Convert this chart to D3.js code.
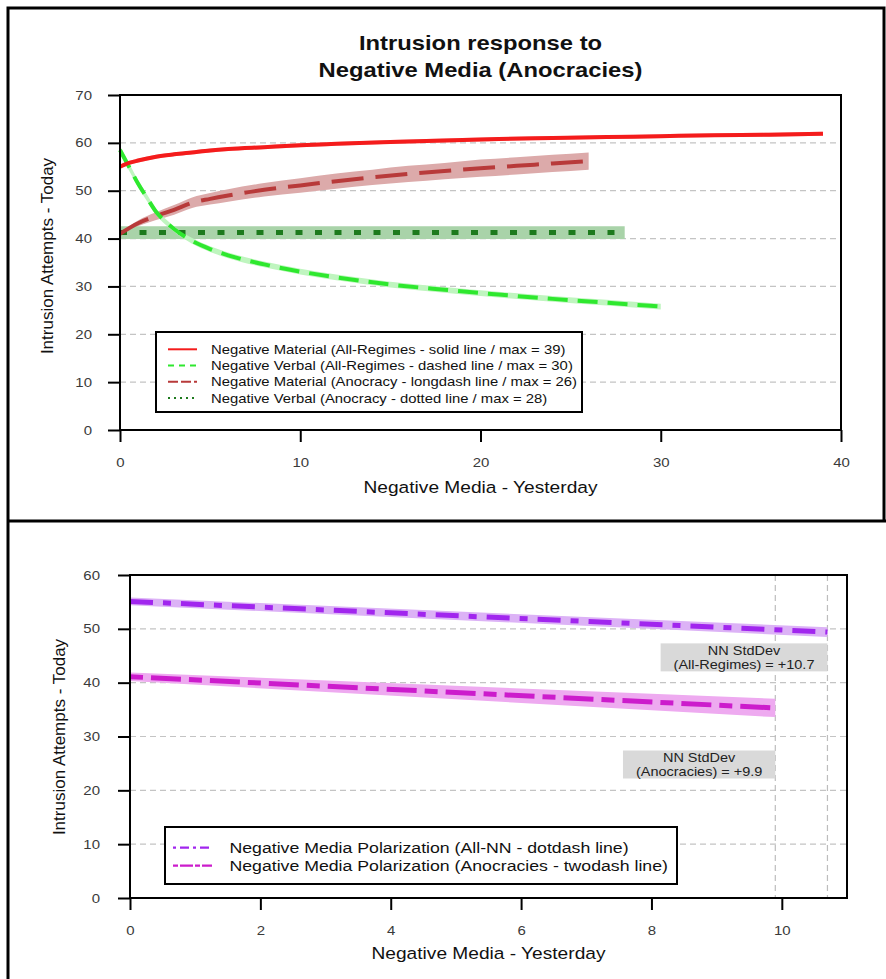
<!DOCTYPE html>
<html>
<head>
<meta charset="utf-8">
<script src="https://cdn.jsdelivr.net/npm/d3@7"></script>
<style>
  body { margin: 0; background: #fff; }
  svg { display: block; }
  text { font-family: "Liberation Sans", Arial, Helvetica, sans-serif; }
</style>
</head>
<body>
<script>
// ---------- Panel 1: intrusion response curves ----------
const topTitle = ["Intrusion response to", "Negative Media (Anocracies)"];
const topXTicks = [0, 10, 20, 30, 40];
const topYTicks = [0, 10, 20, 30, 40, 50, 60, 70];
const topGrid = [10, 20, 30, 40, 50, 60];

// Negative Material, all regimes (solid)
const matAllX = [0, 0.5, 1, 2, 3, 4, 5, 6, 8, 10, 12, 15, 18, 21, 24, 27, 30, 33, 36, 39];
const matAllY = [55.0, 55.8, 56.3, 57.1, 57.6, 58.0, 58.4, 58.7, 59.1, 59.5, 59.8, 60.2, 60.5, 60.8, 61.0, 61.2, 61.4, 61.6, 61.7, 61.9];
const matAllLo = [54.6, 55.4, 55.9, 56.7, 57.2, 57.6, 58.0, 58.3, 58.7, 59.1, 59.4, 59.8, 60.1, 60.4, 60.6, 60.8, 61.0, 61.2, 61.3, 61.5];
const matAllHi = [55.4, 56.2, 56.7, 57.5, 58.0, 58.4, 58.8, 59.1, 59.5, 59.9, 60.2, 60.6, 60.9, 61.2, 61.4, 61.6, 61.8, 62.0, 62.1, 62.3];

// Negative Verbal, all regimes (dashed)
const verbAllX = [0, 0.5, 1, 1.5, 2, 2.5, 3, 4, 5, 6, 8, 10, 12, 15, 18, 21, 24, 27, 30];
const verbAllY = [58.5, 55.0, 51.5, 48.5, 45.6, 43.6, 42.0, 39.5, 37.8, 36.5, 34.6, 33.1, 31.9, 30.4, 29.3, 28.3, 27.4, 26.6, 25.8];
const verbAllLo = [57.6, 54.2, 50.8, 47.8, 45.0, 43.0, 41.4, 38.9, 37.2, 35.9, 34.0, 32.5, 31.3, 29.8, 28.7, 27.7, 26.8, 26.0, 25.2];
const verbAllHi = [59.4, 55.8, 52.2, 49.2, 46.2, 44.2, 42.6, 40.1, 38.4, 37.1, 35.2, 33.7, 32.5, 31.0, 29.9, 28.9, 28.0, 27.2, 26.4];

// Negative Material, anocracy (longdash)
const matAnoX = [0, 1, 2, 3, 4, 5, 6, 8, 10, 12, 14, 16, 18, 20, 22, 24, 26];
const matAnoY = [41.0, 43.2, 44.7, 46.0, 47.5, 48.3, 49.0, 50.2, 51.1, 52.0, 52.8, 53.5, 54.1, 54.7, 55.2, 55.7, 56.2];
const matAnoLo = [40.8, 42.6, 43.9, 45.0, 46.4, 47.1, 47.7, 48.8, 49.6, 50.4, 51.2, 51.8, 52.4, 52.9, 53.4, 53.9, 54.4];
const matAnoHi = [41.2, 43.8, 45.5, 47.0, 48.6, 49.5, 50.3, 51.6, 52.6, 53.6, 54.4, 55.2, 55.8, 56.5, 57.0, 57.5, 58.0];

// Negative Verbal, anocracy (dotted)
const verbAnoX = [0, 28];
const verbAnoY = [41.25, 41.25];
const verbAnoLo = [39.9, 39.9];
const verbAnoHi = [42.6, 42.6];

const topLegend = [
  "Negative Material (All-Regimes - solid line / max = 39)",
  "Negative Verbal (All-Regimes - dashed line / max = 30)",
  "Negative Material (Anocracy - longdash line / max = 26)",
  "Negative Verbal (Anocracy - dotted line / max = 28)"
];

// ---------- Panel 2: media polarization ----------
const botXTicks = [0, 2, 4, 6, 8, 10];
const botYTicks = [0, 10, 20, 30, 40, 50, 60];
const botGrid = [10, 20, 30, 40, 50];

const polAllX = [0, 10.7];
const polAllY = [55.1, 49.4];
const polAllLo = [54.4, 48.5];
const polAllHi = [55.8, 50.3];

const polAnoX = [0, 9.9];
const polAnoY = [41.1, 35.3];
const polAnoLo = [40.3, 33.6];
const polAnoHi = [41.9, 37.0];

const sdValues = [10.7, 9.9];
const sdLabelY = [44.7, 24.8];
const sdLabels = [["NN StdDev", "(All-Regimes) = +10.7"], ["NN StdDev", "(Anocracies) = +9.9"]];

const botLegend = [
  "Negative Media Polarization (All-NN - dotdash line)",
  "Negative Media Polarization (Anocracies - twodash line)"
];

// ---------- drawing ----------
const W = 886, H = 979;
const svg = d3.select("body").append("svg").attr("width", W).attr("height", H);

// text with a slight horizontal stretch
function stext(g, x, y, str, size, opts = {}) {
  const sx = opts.sx || 1.18;
  return g.append("text")
    .attr("transform", `translate(${x},${y}) scale(${sx},1)`)
    .attr("text-anchor", opts.anchor || "start")
    .attr("font-size", size)
    .attr("font-weight", opts.weight || "normal")
    .attr("fill", opts.fill || "#111")
    .text(str);
}

function ribbon(g, xs, lo, hi, x, y, fill) {
  g.append("path")
    .datum(xs.map((d, i) => [d, lo[i], hi[i]]))
    .attr("d", d3.area().x(d => x(d[0])).y0(d => y(d[1])).y1(d => y(d[2])).curve(d3.curveMonotoneX))
    .attr("fill", fill);
}

function curve(g, xs, ys, x, y, color, width, dash, cap) {
  g.append("path")
    .datum(xs.map((d, i) => [d, ys[i]]))
    .attr("d", d3.line().x(d => x(d[0])).y(d => y(d[1])).curve(d3.curveMonotoneX))
    .attr("fill", "none")
    .attr("stroke", color)
    .attr("stroke-width", width)
    .attr("stroke-dasharray", dash || null)
    .attr("stroke-linecap", cap || "butt");
}

function axes(g, x, y, xTicks, yTicks, grid, x0, x1, y0, y1, yLabelPad) {
  // horizontal grid
  g.append("g").selectAll("line").data(grid).join("line")
    .attr("x1", x0).attr("x2", x1)
    .attr("y1", d => y(d)).attr("y2", d => y(d))
    .attr("stroke", "#c4c4c4").attr("stroke-width", 1.2).attr("stroke-dasharray", "6,4");

  const ya = g.append("g").attr("transform", `translate(${x0},0)`)
    .call(d3.axisLeft(y).tickValues(yTicks).tickSize(12).tickPadding(yLabelPad).tickFormat(d3.format("d")));
  const xa = g.append("g").attr("transform", `translate(0,${y0})`)
    .call(d3.axisBottom(x).tickValues(xTicks).tickSize(12).tickPadding(16).tickFormat(d3.format("d")));
  [ya, xa].forEach(a => {
    a.select(".domain").remove();
    a.selectAll(".tick line").attr("stroke", "#000").attr("stroke-width", 2);
    a.selectAll(".tick text")
      .attr("font-size", 12.5)
      .attr("font-family", "'Liberation Sans', Arial, sans-serif")
      .attr("fill", "#3a3a3a")
      .each(function () {
        const t = d3.select(this);
        const tx = +t.attr("x") || 0;
        t.attr("x", tx / 1.2).attr("transform", "scale(1.2,1)");
      });
  });
}

function border(g, x0, x1, y0, y1) {
  g.append("rect").attr("x", x0).attr("y", y1).attr("width", x1 - x0).attr("height", y0 - y1)
    .attr("fill", "none").attr("stroke", "#000").attr("stroke-width", 2);
}

// ===== Panel 1 =====
{
  const x = d3.scaleLinear().domain([0, 40]).range([120, 841]);
  const y = d3.scaleLinear().domain([0, 70]).range([430, 95]);
  const g = svg.append("g");

  stext(g, 480.5, 50, topTitle[0], 19.5, { anchor: "middle", weight: "bold", sx: 1.22 });
  stext(g, 480.5, 76.5, topTitle[1], 19.5, { anchor: "middle", weight: "bold", sx: 1.22 });

  axes(g, x, y, topXTicks, topYTicks, topGrid, 120, 841, 430, 95, 16);

  ribbon(g, matAnoX, matAnoLo, matAnoHi, x, y, "#dcaaaa");
  ribbon(g, verbAnoX, verbAnoLo, verbAnoHi, x, y, "#a9d3a9");
  ribbon(g, verbAllX, verbAllLo, verbAllHi, x, y, "#bff5bf");
  ribbon(g, matAllX, matAllLo, matAllHi, x, y, "#fbb4b4");

  curve(g, verbAnoX, verbAnoY, x, y, "#1d7a1d", 5, "7,12.5");
  curve(g, matAnoX, matAnoY, x, y, "#b83a3a", 4, "32,12");
  curve(g, verbAllX, verbAllY, x, y, "#2ee82e", 4, "20,10");
  curve(g, matAllX, matAllY, x, y, "#f41c1c", 4);

  border(g, 120, 841, 430, 95);

  // legend
  const lg = g.append("g");
  lg.append("rect").attr("x", 156).attr("y", 332).attr("width", 426).attr("height", 80)
    .attr("fill", "#fff").attr("stroke", "#000").attr("stroke-width", 2);
  const styles = [
    { c: "#f41c1c", d: null },
    { c: "#2ee82e", d: "6,5" },
    { c: "#b83a3a", d: "10,3" },
    { c: "#1d7a1d", d: "2,4" }
  ];
  topLegend.forEach((t, i) => {
    const yy = 349.3 + i * 16.2;
    lg.append("line").attr("x1", 168).attr("x2", 197).attr("y1", yy).attr("y2", yy)
      .attr("stroke", styles[i].c).attr("stroke-width", 2).attr("stroke-dasharray", styles[i].d);
    stext(lg, 211, yy + 4.6, t, 12.8, { sx: 1.16 });
  });

  stext(g, 480.5, 493, "Negative Media - Yesterday", 16.5, { anchor: "middle", sx: 1.16 });
  g.append("text").attr("transform", "translate(53,256) rotate(-90)")
    .attr("text-anchor", "middle").attr("font-size", 17).attr("fill", "#111")
    .text("Intrusion Attempts - Today");
}

// ===== Panel 2 =====
{
  const x = d3.scaleLinear().domain([0, 11]).range([130, 847]);
  const y = d3.scaleLinear().domain([0, 60]).range([898, 575]);
  const g = svg.append("g");

  axes(g, x, y, botXTicks, botYTicks, botGrid, 130, 847, 898, 575, 18);

  // standard deviation markers
  g.append("g").selectAll("line").data(sdValues).join("line")
    .attr("x1", d => x(d)).attr("x2", d => x(d)).attr("y1", 575).attr("y2", 898)
    .attr("stroke", "#bdbdbd").attr("stroke-width", 1.2).attr("stroke-dasharray", "6,4");

  ribbon(g, polAllX, polAllLo, polAllHi, x, y, "#dcb2f6");
  ribbon(g, polAnoX, polAnoLo, polAnoHi, x, y, "#eeaaf0");
  curve(g, polAllX, polAllY, x, y, "#a126ee", 5, "23,10,8,10");
  curve(g, polAnoX, polAnoY, x, y, "#cc1ccc", 5, "13,8,30,8");

  // std-dev labels
  sdValues.forEach((sd, i) => {
    const fs = 12.5, sx = 1.16;
    const lines = sdLabels[i];
    const lg = g.append("g");
    const rect = lg.append("rect").attr("fill", "#d9d9d9");
    const t1 = stext(lg, 0, 0, lines[0], fs, { anchor: "middle", sx, fill: "#222" });
    const t2 = stext(lg, 0, 0, lines[1], fs, { anchor: "middle", sx, fill: "#222" });
    const w = Math.max(t1.node().getComputedTextLength(), t2.node().getComputedTextLength()) * sx + 26;
    const h = 28;
    const xr = x(sd), yc = y(sdLabelY[i]);
    const cx = xr - w / 2;
    rect.attr("x", xr - w).attr("y", yc - h / 2).attr("width", w).attr("height", h);
    t1.attr("transform", `translate(${cx},${yc - 2}) scale(${sx},1)`);
    t2.attr("transform", `translate(${cx},${yc + 11.5}) scale(${sx},1)`);
  });

  border(g, 130, 847, 898, 575);

  // legend
  const lg = g.append("g");
  lg.append("rect").attr("x", 165).attr("y", 827).attr("width", 512).attr("height", 57)
    .attr("fill", "#fff").attr("stroke", "#000").attr("stroke-width", 2);
  const styles = [
    { c: "#a126ee", d: "3,4,9,4" },
    { c: "#cc1ccc", d: "5,2,13,2" }
  ];
  botLegend.forEach((t, i) => {
    const yy = 847.7 + i * 18;
    lg.append("line").attr("x1", 173).attr("x2", 212).attr("y1", yy).attr("y2", yy)
      .attr("stroke", styles[i].c).attr("stroke-width", 2.2).attr("stroke-dasharray", styles[i].d);
    stext(lg, 229.5, yy + 5.3, t, 15, { sx: 1.18 });
  });

  stext(g, 488.5, 959, "Negative Media - Yesterday", 16.5, { anchor: "middle", sx: 1.16 });
  g.append("text").attr("transform", "translate(65,737) rotate(-90)")
    .attr("text-anchor", "middle").attr("font-size", 17).attr("fill", "#111")
    .text("Intrusion Attempts - Today");
}

// outer frame and panel divider
svg.append("path")
  .attr("d", `M8,${H + 2} V8 H884 V521 M8,521 H${W + 2}`)
  .attr("fill", "none").attr("stroke", "#000").attr("stroke-width", 3);
</script>
</body>
</html>
